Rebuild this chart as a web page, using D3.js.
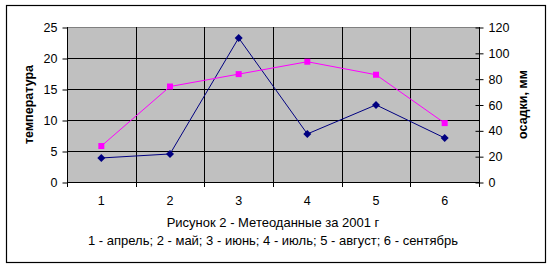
<!DOCTYPE html>
<html>
<head>
<meta charset="utf-8">
<script src="https://cdn.jsdelivr.net/npm/d3@7"></script>
<style>
  body { margin: 0; background: #fff; }
  text { font-family: Arial, "Liberation Sans", sans-serif; }
</style>
</head>
<body>
<div id="chart"></div>
<script>
// months 1..6 (april - september)
const categories = ['1', '2', '3', '4', '5', '6'];
const temperature = [5.8, 15.4, 17.4, 19.4, 17.3, 9.5];
const precipitation = [18.6, 21.7, 111.5, 37.2, 59.7, 34.1];
const leftTicks = [0, 5, 10, 15, 20, 25];
const rightTicks = [0, 20, 40, 60, 80, 100, 120];
const caption1 = 'Рисунок 2 - Метеоданные за 2001 г';
const caption2 = '1 - апрель; 2 - май; 3 - июнь; 4 - июль; 5 - август; 6 - сентябрь';

const width = 552, height = 270;
const plot = { left: 67, top: 27, right: 479, bottom: 182 };

const svg = d3.select('#chart')
    .append('svg')
    .attr('width', width)
    .attr('height', height);

// outer frame
svg.append('rect')
    .attr('x', 6.5).attr('y', 5.5)
    .attr('width', 539).attr('height', 257)
    .attr('fill', '#fff')
    .attr('stroke', '#000')
    .attr('stroke-width', 1.2);

let x = d3.scaleBand()
    .domain(categories)
    .range([plot.left, plot.right]);

let yLeft = d3.scaleLinear()
    .domain([0, 25])
    .range([plot.bottom, plot.top]);

let yRight = d3.scaleLinear()
    .domain([0, 120])
    .range([plot.bottom, plot.top]);

// plot background
svg.append('rect')
    .attr('x', plot.left).attr('y', plot.top)
    .attr('width', plot.right - plot.left)
    .attr('height', plot.bottom - plot.top)
    .attr('fill', '#c0c0c0');

svg.append('line')
    .attr('x1', plot.left).attr('x2', plot.right)
    .attr('y1', plot.top + 0.5).attr('y2', plot.top + 0.5)
    .attr('stroke', '#808080');

// grid
let grid = svg.append('g').attr('stroke', '#000').attr('stroke-width', 1);
grid.selectAll('.hg')
    .data(leftTicks.slice(1, -1))
    .enter()
    .append('line')
    .attr('x1', plot.left).attr('x2', plot.right)
    .attr('y1', d => Math.round(yLeft(d)) + 0.5)
    .attr('y2', d => Math.round(yLeft(d)) + 0.5);

grid.selectAll('.vg')
    .data(categories.slice(1))
    .enter()
    .append('line')
    .attr('x1', d => Math.round(x(d)) + 0.5)
    .attr('x2', d => Math.round(x(d)) + 0.5)
    .attr('y1', plot.top).attr('y2', plot.bottom);

// left axis
let leftAxis = svg.append('g')
    .attr('transform', 'translate(' + (plot.left + 0.5) + ',0.5)')
    .call(d3.axisLeft(yLeft).tickValues(leftTicks).tickSize(5).tickPadding(5))
    .style('font-size', '12.5px')
    .style('font-family', 'Arial, "Liberation Sans", sans-serif');
leftAxis.selectAll('line, path').attr('stroke', '#000');
leftAxis.select('.domain').attr('d', 'M0,' + (plot.top - 0.5) + 'V' + (plot.bottom - 0.5));
leftAxis.selectAll('text').attr('fill', '#000');

// right axis
let rightAxis = svg.append('g')
    .attr('transform', 'translate(' + (plot.right + 0.5) + ',0.5)')
    .call(d3.axisRight(yRight).tickValues(rightTicks).tickSize(4).tickPadding(5))
    .style('font-size', '12.5px')
    .style('font-family', 'Arial, "Liberation Sans", sans-serif');
rightAxis.selectAll('.tick line').attr('x1', -4);
rightAxis.selectAll('line, path').attr('stroke', '#000');
rightAxis.select('.domain').attr('d', 'M0,' + (plot.top - 0.5) + 'V' + (plot.bottom - 0.5));
rightAxis.selectAll('text').attr('fill', '#000');

// bottom axis: ticks on category boundaries, labels centered
let bottom = svg.append('g');
bottom.append('line')
    .attr('x1', plot.left).attr('x2', plot.right + 1)
    .attr('y1', plot.bottom + 0.5).attr('y2', plot.bottom + 0.5)
    .attr('stroke', '#000');
bottom.selectAll('.bt')
    .data(categories.concat(['end']))
    .enter()
    .append('line')
    .attr('x1', (d, i) => Math.round(plot.left + i * x.bandwidth()) + 0.5)
    .attr('x2', (d, i) => Math.round(plot.left + i * x.bandwidth()) + 0.5)
    .attr('y1', plot.bottom).attr('y2', plot.bottom + 5)
    .attr('stroke', '#000');
bottom.selectAll('text')
    .data(categories)
    .enter()
    .append('text')
    .attr('x', d => x(d) + x.bandwidth() / 2)
    .attr('y', 205)
    .attr('text-anchor', 'middle')
    .style('font-size', '12.5px')
    .text(d => d);

// axis titles
svg.append('text')
    .attr('transform', 'translate(33,' + (plot.top + plot.bottom) / 2 + ') rotate(-90)')
    .attr('text-anchor', 'middle')
    .style('font-size', '12.5px')
    .style('font-weight', 'bold')
    .text('температура');

svg.append('text')
    .attr('transform', 'translate(527,' + (plot.top + plot.bottom) / 2 + ') rotate(-90)')
    .attr('text-anchor', 'middle')
    .style('font-size', '12.5px')
    .style('font-weight', 'bold')
    .text('осадки, мм');

// captions
svg.append('text')
    .attr('x', 273).attr('y', 227)
    .attr('text-anchor', 'middle')
    .style('font-size', '13px')
    .text(caption1);
svg.append('text')
    .attr('x', 273).attr('y', 245)
    .attr('text-anchor', 'middle')
    .style('font-size', '13px')
    .text(caption2);

const cx = d => x(d) + x.bandwidth() / 2;

// precipitation line (navy, diamonds)
svg.append('path')
    .datum(precipitation)
    .attr('fill', 'none')
    .attr('stroke', '#000080')
    .attr('stroke-width', 1)
    .attr('d', d3.line().x((d, i) => cx(categories[i])).y(d => yRight(d)));
svg.selectAll('.dia')
    .data(precipitation)
    .enter()
    .append('path')
    .attr('transform', (d, i) => 'translate(' + cx(categories[i]) + ',' + yRight(d) + ')')
    .attr('d', 'M0,-4L4,0L0,4L-4,0Z')
    .attr('fill', '#000080');

// temperature line (magenta, squares)
svg.append('path')
    .datum(temperature)
    .attr('fill', 'none')
    .attr('stroke', '#ff00ff')
    .attr('stroke-width', 1)
    .attr('d', d3.line().x((d, i) => cx(categories[i])).y(d => yLeft(d)));
svg.selectAll('.sq')
    .data(temperature)
    .enter()
    .append('rect')
    .attr('x', (d, i) => cx(categories[i]) - 3)
    .attr('y', d => yLeft(d) - 3)
    .attr('width', 6).attr('height', 6)
    .attr('fill', '#ff00ff');
</script>
</body>
</html>
